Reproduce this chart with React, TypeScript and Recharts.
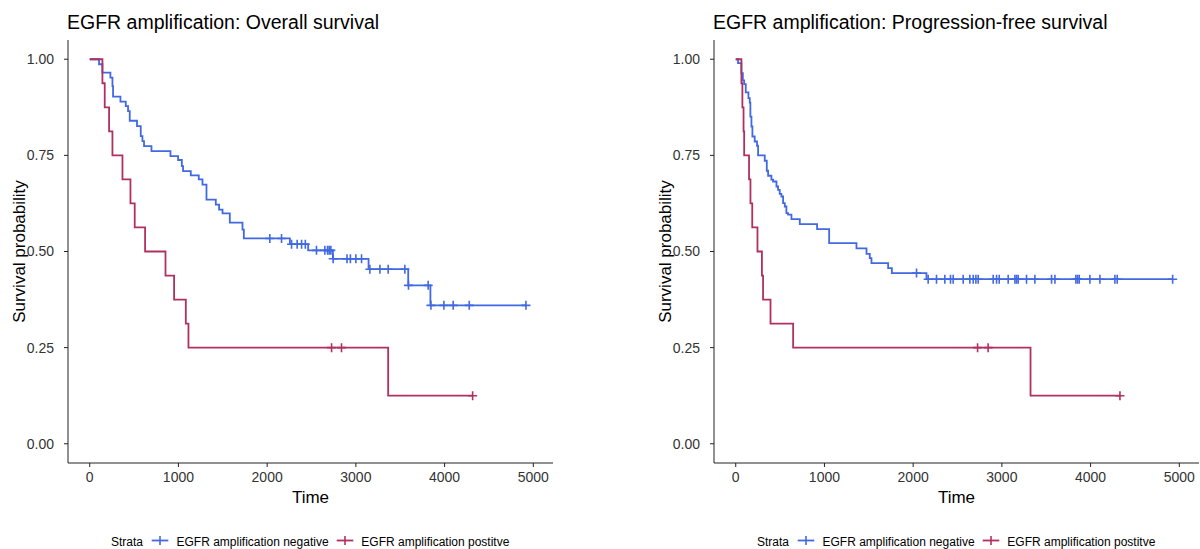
import React from 'react';
import { ComposedChart, Line, XAxis, YAxis } from 'recharts';

const FONT = '"Liberation Sans", Arial, sans-serif';
const BLUE = '#4169E1';
const RED = '#B03060';

const xTicks = [0, 1000, 2000, 3000, 4000, 5000];
const yTicks = [0, 0.25, 0.5, 0.75, 1];
const xDomain: [number, number] = [-245, 5222];
const yDomain: [number, number] = [-0.05, 1.05];

const titles = ['EGFR amplification: Overall survival', 'EGFR amplification: Progression-free survival'];
const strataLabels = ['EGFR amplification negative', 'EGFR amplification postitve'];

// Overall survival – EGFR amplification negative
const osNegTimes = [0, 105, 143, 233, 256, 263, 346, 406, 432, 451, 533, 575, 594, 612, 696, 910, 996, 1038, 1052, 1139, 1229, 1271, 1316, 1421, 1458, 1497, 1579, 1722, 1737, 2256, 2462, 2741, 3143, 3590, 3840];
const osNegSurv = [1, 0.987, 0.965, 0.952, 0.93, 0.903, 0.89, 0.878, 0.865, 0.84, 0.826, 0.8, 0.787, 0.774, 0.761, 0.748, 0.738, 0.722, 0.709, 0.698, 0.6875, 0.674, 0.635, 0.622, 0.609, 0.599, 0.575, 0.557, 0.534, 0.519, 0.503, 0.481, 0.454, 0.412, 0.36];
const osNegCensor = [2030, 2162, 2275, 2338, 2388, 2430, 2556, 2650, 2681, 2699, 2718, 2744, 2900, 2938, 3000, 3064, 3158, 3271, 3364, 3552, 3593, 3815, 3846, 3992, 4097, 4278, 4917];

// Overall survival – EGFR amplification positive
const osPosTimes = [0, 143, 169, 218, 256, 369, 459, 507, 624, 854, 951, 1083, 1113, 3364];
const osPosSurv = [1, 0.9375, 0.875, 0.8125, 0.75, 0.6875, 0.625, 0.5625, 0.5, 0.4375, 0.375, 0.3125, 0.25, 0.125];
const osPosCensor = [2726, 2838, 4316];

// Progression-free survival – negative
const pfsNegTimes = [0, 26, 64, 80, 95, 113, 143, 158, 165, 177, 188, 214, 240, 252, 327, 350, 365, 402, 421, 459, 477, 496, 515, 534, 553, 571, 590, 628, 722, 917, 1053, 1361, 1474, 1511, 1530, 1718, 1760, 2150];
const pfsNegSurv = [1, 0.99, 0.964, 0.945, 0.935, 0.914, 0.899, 0.887, 0.851, 0.825, 0.799, 0.786, 0.775, 0.75, 0.736, 0.71, 0.697, 0.687, 0.682, 0.669, 0.66, 0.65, 0.643, 0.626, 0.617, 0.6, 0.596, 0.584, 0.571, 0.558, 0.522, 0.508, 0.494, 0.483, 0.47, 0.457, 0.444, 0.428];
const pfsNegCensor = [2038, 2169, 2263, 2357, 2421, 2451, 2564, 2639, 2677, 2707, 2733, 2902, 2940, 2970, 3071, 3147, 3165, 3184, 3278, 3372, 3560, 3598, 3834, 3853, 3872, 3992, 4105, 4274, 4300, 4925];

// Progression-free survival – positive
const pfsPosTimes = [0, 64, 75, 88, 95, 150, 166, 186, 245, 295, 308, 392, 647, 3323];
const pfsPosSurv = [1, 0.9375, 0.875, 0.8125, 0.75, 0.6875, 0.625, 0.5625, 0.5, 0.4375, 0.375, 0.3125, 0.25, 0.125];
const pfsPosCensor = [2726, 2845, 4331];

type Pt = { t: number; s: number };

function stepData(times: number[], surv: number[], censor: number[]): Pt[] {
  const pts = times.map((t, i) => ({ t, s: surv[i] }));
  const end = Math.max(times[times.length - 1], ...censor);
  pts.push({ t: end, s: surv[surv.length - 1] });
  return pts;
}

function censorData(times: number[], surv: number[], censor: number[]): Pt[] {
  return censor.map((c) => {
    let s = surv[0];
    for (let i = 0; i < times.length; i++) if (times[i] <= c) s = surv[i];
    return { t: c, s };
  });
}

const plusDot = (color: string) => (p: any) => {
  const { cx, cy, index } = p;
  if (cx == null || cy == null) return <g key={`n${index}`} />;
  return (
    <path
      key={`p${index}`}
      d={`M${cx - 4.5},${cy}H${cx + 4.5}M${cx},${cy - 4.5}V${cy + 4.5}`}
      stroke={color}
      strokeWidth={1.6}
      fill="none"
    />
  );
};

type PanelProps = {
  left: number;
  width: number;
  negTimes: number[];
  negSurv: number[];
  negCensor: number[];
  posTimes: number[];
  posSurv: number[];
  posCensor: number[];
};

function Panel(props: PanelProps) {
  const { left, width, negTimes, negSurv, negCensor, posTimes, posSurv, posCensor } = props;
  const negLine = stepData(negTimes, negSurv, negCensor);
  const posLine = stepData(posTimes, posSurv, posCensor);
  const negC = censorData(negTimes, negSurv, negCensor);
  const posC = censorData(posTimes, posSurv, posCensor);
  const plotRight = 553;
  return (
    <div style={{ position: 'absolute', left, top: 0, width, height: 549 }}>
      <ComposedChart width={width} height={549} margin={{ top: 40, right: width - plotRight, left: 0, bottom: 56 }}>
        <XAxis
          type="number"
          dataKey="t"
          domain={xDomain}
          ticks={xTicks}
          allowDataOverflow
          height={30}
          tickSize={4}
          tickMargin={5}
          stroke="#222"
          tick={{ fill: '#333', fontSize: 14, fontFamily: FONT }}
        />
        <YAxis
          type="number"
          dataKey="s"
          domain={yDomain}
          ticks={yTicks}
          allowDataOverflow
          width={68}
          tickSize={4}
          tickMargin={10}
          stroke="#222"
          tickFormatter={(v: number) => v.toFixed(2)}
          tick={{ fill: '#333', fontSize: 14, fontFamily: FONT }}
        />
        <Line data={negLine} dataKey="s" type="stepAfter" stroke={BLUE} strokeWidth={1.8} dot={false} activeDot={false} isAnimationActive={false} legendType="none" />
        <Line data={posLine} dataKey="s" type="stepAfter" stroke={RED} strokeWidth={1.8} dot={false} activeDot={false} isAnimationActive={false} legendType="none" />
        <Line data={negC} dataKey="s" stroke="none" dot={plusDot(BLUE)} activeDot={false} isAnimationActive={false} legendType="none" />
        <Line data={posC} dataKey="s" stroke="none" dot={plusDot(RED)} activeDot={false} isAnimationActive={false} legendType="none" />
      </ComposedChart>
    </div>
  );
}

function Texts({ dx, title }: { dx: number; title: string }) {
  const keyY = 540.5;
  const key = (x: number, color: string) => (
    <g>
      <line x1={x} x2={x + 16.6} y1={keyY} y2={keyY} stroke={color} strokeWidth={1.8} />
      <line x1={x + 8.3} x2={x + 8.3} y1={keyY - 4.5} y2={keyY + 4.5} stroke={color} strokeWidth={1.6} />
    </g>
  );
  return (
    <g fontFamily={FONT}>
      <text x={67 + dx} y={29} fontSize={19.5} fill="#000">{title}</text>
      <text x={310.5 + dx} y={503} fontSize={17} fill="#000" textAnchor="middle">Time</text>
      <text transform={`translate(${25 + dx},251.5) rotate(-90)`} fontSize={17} fill="#000" textAnchor="middle">Survival probability</text>
      <text x={111 + dx} y={546} fontSize={12} fill="#000">Strata</text>
      {key(151.7 + dx, BLUE)}
      <text x={176.5 + dx} y={546} fontSize={12} fill="#000">{strataLabels[0]}</text>
      {key(336.7 + dx, RED)}
      <text x={361.3 + dx} y={546} fontSize={12} fill="#000">{strataLabels[1]}</text>
    </g>
  );
}

export default function App() {
  return (
    <div style={{ position: 'absolute', left: 0, top: 0, width: 1200, height: 549, overflow: 'hidden', background: '#fff' }}>
      <Panel left={0} width={600} negTimes={osNegTimes} negSurv={osNegSurv} negCensor={osNegCensor} posTimes={osPosTimes} posSurv={osPosSurv} posCensor={osPosCensor} />
      <Panel left={646} width={554} negTimes={pfsNegTimes} negSurv={pfsNegSurv} negCensor={pfsNegCensor} posTimes={pfsPosTimes} posSurv={pfsPosSurv} posCensor={pfsPosCensor} />
      <svg width={1200} height={549} style={{ position: 'absolute', left: 0, top: 0, pointerEvents: 'none' }}>
        <Texts dx={0} title={titles[0]} />
        <Texts dx={646} title={titles[1]} />
      </svg>
    </div>
  );
}
